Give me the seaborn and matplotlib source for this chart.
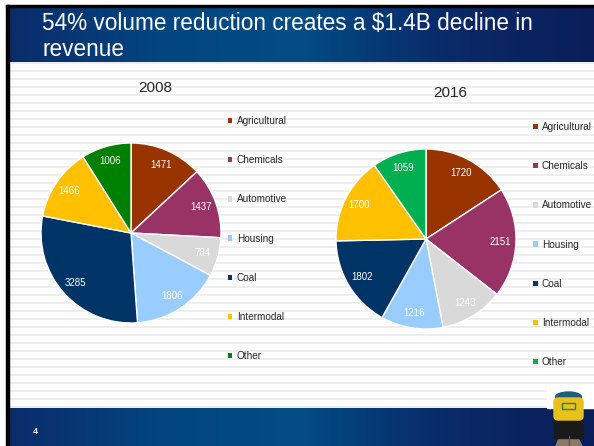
import numpy as np
import matplotlib.pyplot as plt
import seaborn as sns
from matplotlib.colors import LinearSegmentedColormap
from matplotlib.patches import Rectangle, Patch, Polygon, FancyBboxPatch, Ellipse

sns.set_style("white")
plt.rcParams["font.family"] = ["Liberation Sans", "DejaVu Sans"]

# data
categories = ["Agricultural", "Chemicals", "Automotive", "Housing", "Coal", "Intermodal", "Other"]
volume_2008 = [1471, 1437, 784, 1806, 3285, 1466, 1006]
volume_2016 = [1720, 2151, 1243, 1216, 1802, 1700, 1059]
colors_2008 = sns.color_palette(["#993300", "#993366", "#D9D9D9", "#99CCFF", "#003366", "#FFC000", "#008000"])
colors_2016 = sns.color_palette(["#993300", "#993366", "#D9D9D9", "#99CCFF", "#003366", "#FFC000", "#00B050"])
title_lines = ["54% volume reduction creates a \\$1.4B decline in", "revenue"]

W, H = 594, 446
fig = plt.figure(figsize=(W / 100, H / 100), dpi=100)

# slide background drawn in pixel coordinates
bg = fig.add_axes([0, 0, 1, 1], zorder=-1)
bg.set_xlim(0, W)
bg.set_ylim(H, 0)
bg.axis("off")
bg.add_patch(Rectangle((0, 0), W, H, color="white"))
for y in np.arange(62, 408, 8):
    bg.add_patch(Rectangle((9, y), W - 9, 2.2, color="#EEEEEE", lw=0))

slide_blue = LinearSegmentedColormap.from_list("slide", ["#0B2C6B", "#03457F", "#024C84", "#0A2A68", "#0B1E5A"])
grad = np.linspace(0, 1, 300)[None, :]
bg.imshow(grad, cmap=slide_blue, extent=(8, W, 62, 7), aspect="auto", zorder=2)
bg.imshow(grad, cmap=slide_blue, extent=(8, W, H, 408), aspect="auto", zorder=2)
bg.add_patch(Rectangle((6, 5), W - 6, 2.2, color="black", zorder=3))
bg.add_patch(Rectangle((6, 5), 3, H - 5, color="black", zorder=3))
bg.text(42, 30, title_lines[0], color="white", fontsize=16.3, va="baseline", ha="left", zorder=4)
bg.text(42, 56, title_lines[1], color="white", fontsize=16.3, va="baseline", ha="left", zorder=4)
bg.text(35, 431, "4", color="white", fontsize=6.5, fontweight="bold", va="center", ha="center", zorder=4)

# little locomotive in the corner
bg.add_patch(Rectangle((547, 388), 47, 20, color="white", zorder=3))
bg.add_patch(Polygon([(556, 446), (560, 436), (577, 436), (582, 446)], color="#8A7A6A", zorder=4))
bg.add_patch(Rectangle((554, 418), 29, 20, color="#1A1A1A", zorder=5))
bg.add_patch(FancyBboxPatch((554, 398), 29, 22, boxstyle="round,pad=0,rounding_size=4", color="#E8C21A", zorder=6))
bg.add_patch(Ellipse((568.5, 397), 26, 10, color="#1F5C80", zorder=5))
bg.add_patch(Rectangle((562, 403), 13, 6, facecolor="#E8C21A", edgecolor="#2E7D4A", lw=1, zorder=7))
bg.plot([568.5, 568.5], [436, 446], color="#555555", lw=1, zorder=6)

def draw_pie(left_px, top_px, values, colors, year, title_xy, legend_xy):
    ax = fig.add_axes([left_px / W, 1 - (top_px + 180) / H, 180 / W, 180 / H])
    total = sum(values)
    ax.pie(
        values, colors=colors, startangle=90, counterclock=False,
        autopct=lambda p: f"{p * total / 100:.0f}", pctdistance=0.83,
        wedgeprops=dict(edgecolor="white", linewidth=1.0),
        textprops=dict(color="white", fontsize=7),
    )
    ax.set_xlim(-1.0, 1.0)
    ax.set_ylim(-1.0, 1.0)
    ax.set_aspect("equal")
    ax.patch.set_alpha(0)
    fig.text(title_xy[0] / W, 1 - title_xy[1] / H, year, fontsize=11, ha="center", va="center")
    handles = [Patch(facecolor=c, edgecolor="none") for c in colors]
    fig.legend(handles, categories, loc="upper left", frameon=False,
               bbox_to_anchor=(legend_xy[0] / W, 1 - legend_xy[1] / H),
               fontsize=7.2, handlelength=0.45, handleheight=0.45,
               handletextpad=0.45, labelspacing=2.92, borderpad=0, borderaxespad=0)

draw_pie(41, 143, volume_2008, colors_2008, "2008", (155, 88), (228, 116))
draw_pie(336, 149, volume_2016, colors_2016, "2016", (450, 93), (533, 122))

fig.savefig("out.png", dpi=100)
